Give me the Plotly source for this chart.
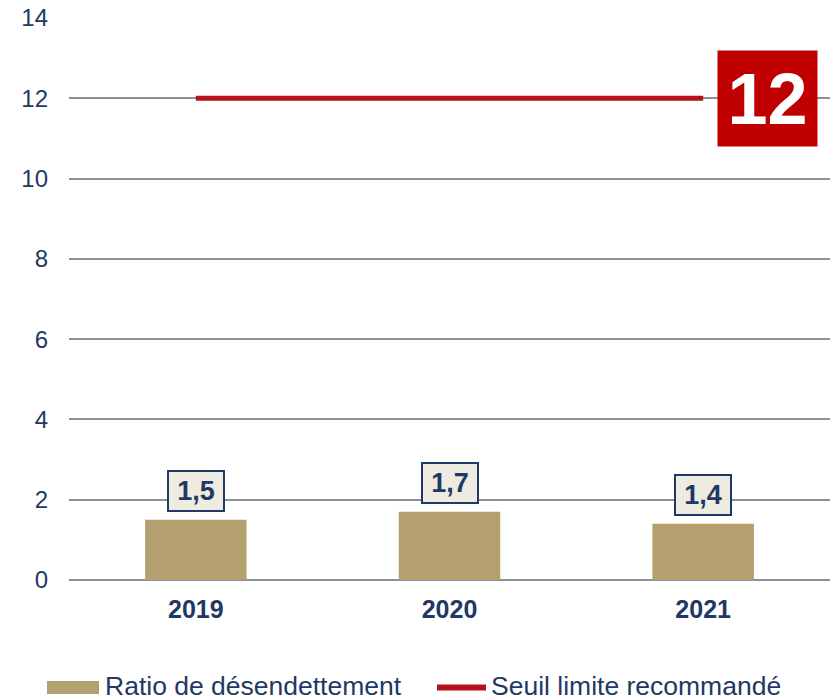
import plotly.graph_objects as go

# Data
years = ["2019", "2020", "2021"]
ratio = [1.5, 1.7, 1.4]
threshold = 12
y_ticks = [0, 2, 4, 6, 8, 10, 12, 14]
series_names = ["Ratio de désendettement", "Seuil limite recommandé"]

NAVY = "#1f3864"
GOLD = "#b3a06e"
RED_LINE = "#b5121b"
RED_BOX = "#c00000"
GRID = "#8e9099"
FONT = "Liberation Sans, Arial, sans-serif"

W, H = 830, 698
ML, MR, MT, MB = 69, 0, 18, 118
PW, PH = W - ML - MR, H - MT - MB


def px(x):
    return (x - ML) / PW


def py(y):
    return (H - MB - y) / PH


def fmt(v):
    return f"{v:.1f}".replace(".", ",")


fig = go.Figure()

fig.add_trace(go.Bar(
    x=years, y=ratio, name=series_names[0],
    marker=dict(color=GOLD, line=dict(width=0)),
    width=0.4, showlegend=False,
))

fig.add_trace(go.Scatter(
    x=years, y=[threshold] * len(years), name=series_names[1],
    mode="lines", line=dict(color=RED_LINE, width=5),
    showlegend=False,
))

# Value boxes above the bars (category index positions)
for i, v in enumerate(ratio):
    fig.add_annotation(
        x=i, y=v, xref="x", yref="y", yanchor="bottom", yshift=8,
        text=f"<b>{fmt(v)}</b>", showarrow=False,
        font=dict(family=FONT, size=27, color=NAVY),
        bgcolor="#eeebe1", bordercolor=NAVY, borderwidth=2, borderpad=0,
        width=54, height=38,
    )

# Threshold value box at the end of the line
fig.add_annotation(
    x=len(years) - 1, y=threshold, xref="x", yref="y", xshift=64,
    text=f"<b>{threshold}</b>", showarrow=False,
    font=dict(family=FONT, size=72, color="white"),
    bgcolor=RED_BOX, borderpad=0, width=99, height=95,
)

# Legend drawn below the plot
fig.add_shape(type="rect", xref="paper", yref="paper",
              x0=px(47), x1=px(99), y0=py(694), y1=py(681),
              fillcolor=GOLD, line=dict(width=0))
fig.add_annotation(xref="paper", yref="paper", x=px(103), y=py(686),
                   xanchor="left", yanchor="middle", showarrow=False,
                   text=series_names[0],
                   font=dict(family=FONT, size=26.5, color=NAVY))
fig.add_shape(type="line", xref="paper", yref="paper",
              x0=px(437), x1=px(486), y0=py(687.5), y1=py(687.5),
              line=dict(color=RED_LINE, width=6))
fig.add_annotation(xref="paper", yref="paper", x=px(489), y=py(686),
                   xanchor="left", yanchor="middle", showarrow=False,
                   text=series_names[1],
                   font=dict(family=FONT, size=26.5, color=NAVY))

fig.update_layout(
    width=W, height=H,
    margin=dict(l=ML, r=MR, t=MT, b=MB, pad=0),
    plot_bgcolor="white", paper_bgcolor="white",
    font=dict(family=FONT, color=NAVY),
    showlegend=False,
)

fig.update_xaxes(
    type="category", range=[-0.5, len(years) - 0.5],
    showgrid=False, showline=False, zeroline=False,
    ticks="", ticklabelstandoff=12,
    tickfont=dict(family=FONT, size=25, color=NAVY, weight="bold"),
)

fig.update_yaxes(
    range=[0, 14], tickvals=y_ticks, ticktext=[str(t) for t in y_ticks],
    showgrid=True, gridcolor=GRID, gridwidth=2,
    zeroline=True, zerolinecolor=GRID, zerolinewidth=2,
    showline=False, ticks="", ticklabelstandoff=20,
    tickfont=dict(family=FONT, size=24, color=NAVY),
)

fig.write_html("out.html")
